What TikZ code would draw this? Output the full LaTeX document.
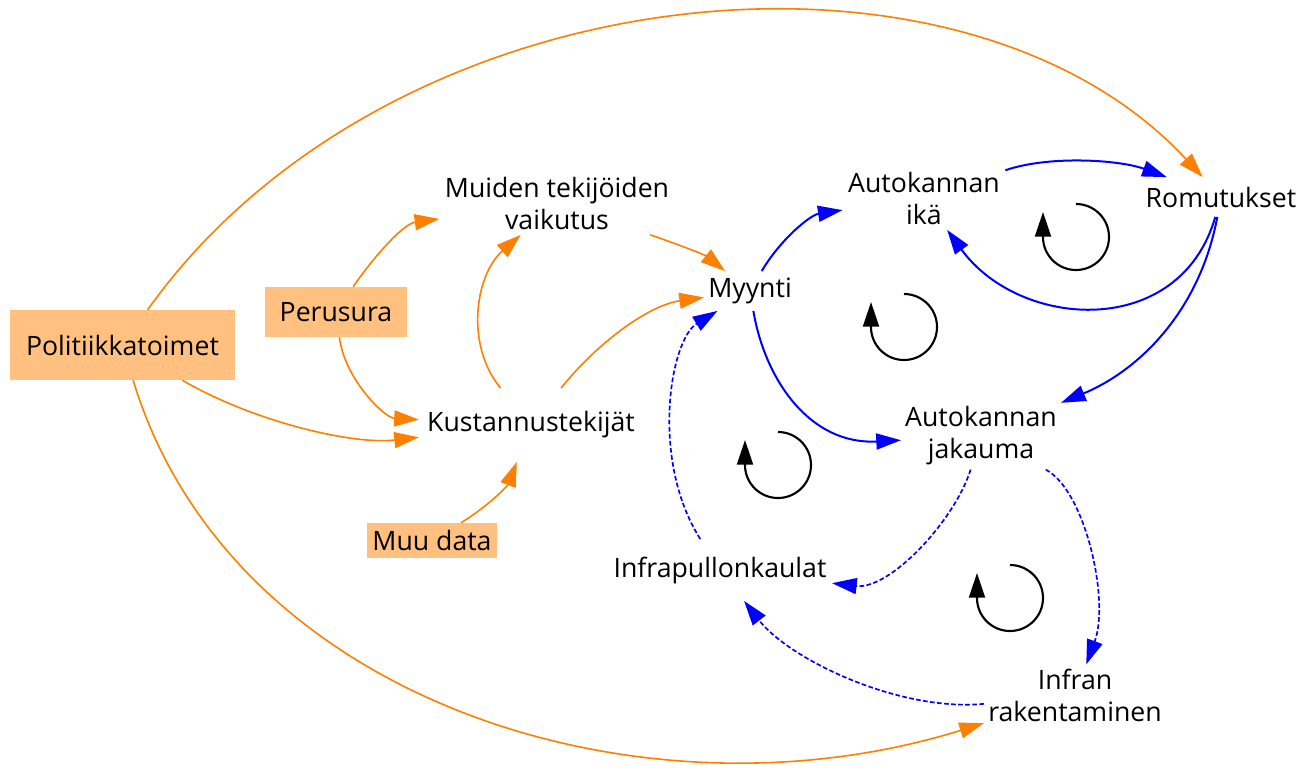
\documentclass[tikz,border=0pt]{standalone}
\usepackage{fontspec}
\setmainfont{Open Sans}
\usetikzlibrary{arrows.meta}
\definecolor{org}{RGB}{255,128,0}
\definecolor{peach}{RGB}{255,192,128}
\definecolor{blu}{RGB}{0,0,255}
\begin{document}
\begin{tikzpicture}[x=0.75pt,y=-0.75pt,
  font=\fontsize{20}{24}\selectfont,
  lbl/.style={align=center, inner sep=4pt},
  srcbox/.style={fill=peach, inner sep=0pt},
  tip/.style={-{Triangle[length=18.5pt,width=12pt]}},
  oarr/.style={draw=org, line width=1.2pt, tip},
  barr/.style={draw=blu, line width=1.5pt, tip},
  darr/.style={draw=blu, line width=1.25pt, dash pattern=on 3.5pt off 1.8pt, tip},
  loopsym/.style={draw=black, line width=1.6pt, tip}]
\useasboundingbox (0,0) rectangle (1304,771);

% nodes
\node[srcbox, minimum width=168.75pt, minimum height=52.5pt] (pol) at (122.5,345) {Politiikkatoimet};
\node[srcbox, minimum width=106.5pt, minimum height=37.5pt] (per) at (336,312) {Perusura};
\node[srcbox, minimum width=97.5pt, minimum height=26.25pt] (muu) at (432,540.5) {Muu data};
\node[lbl] (muid) at (557,203) {Muiden tekijöiden\\vaikutus};
\node[lbl, inner xsep=6pt, inner ysep=17.5pt] (kust) at (531,425) {Kustannustekijät};
\node[lbl, inner xsep=3pt, inner ysep=5pt] (myy) at (750,291) {Myynti};
\node[lbl, inner sep=4pt] (ika) at (924,198) {Autokannan\\ikä};
\node[lbl, inner xsep=3pt, inner ysep=7pt] (romu) at (1221,197) {Romutukset};
\node[lbl, inner sep=3pt] (jak) at (981,436) {Autokannan\\jakauma};
\node[lbl, inner xsep=4pt, inner ysep=13pt] (infp) at (720,570) {Infrapullonkaulat};
\node[lbl, inner sep=3pt] (infr) at (1075,695) {Infran\\rakentaminen};

% orange connectors
\draw[oarr] (pol) .. controls (390,-30) and (960,-85) .. (romu);
\draw[oarr] (pol) .. controls (230,700) and (640,830) .. (infr);
\draw[oarr] (pol) .. controls (250,420) and (350,445) .. (kust);
\draw[oarr] (per) .. controls (370,262) and (402,224) .. (muid);
\draw[oarr] (per) .. controls (345,380) and (385,418) .. (kust);
\draw[oarr] (muu) .. controls (490,505) and (508,485) .. (kust);
\draw[oarr] (kust) .. controls (465,345) and (475,275) .. (muid);
\draw[oarr] (kust) .. controls (600,340) and (650,305) .. (myy);
\draw[oarr] (muid) .. controls (680,245) and (705,255) .. (myy);

% blue connectors
\draw[barr] (myy) .. controls (780,240) and (810,215) .. (ika);
\draw[barr] (ika) .. controls (1050,155) and (1120,160) .. (romu);
\draw[barr] (romu) .. controls (1180,340) and (1020,330) .. (ika);
\draw[barr] (romu) .. controls (1200,310) and (1140,370) .. (jak);
\draw[barr] (myy) .. controls (765,380) and (810,445) .. (jak);

% dashed blue connectors
\draw[darr] (jak) .. controls (955,520) and (890,590) .. (infp);
\draw[darr] (jak) .. controls (1085,490) and (1110,600) .. (infr);
\draw[darr] (infr) .. controls (900,712) and (790,660) .. (infp);
\draw[darr] (infp) .. controls (650,460) and (670,340) .. (myy);

% loop symbols
\draw[loopsym] (1076,204) arc[start angle=-90, end angle=180, radius=33] -- ++(0,-25);
\draw[loopsym] (904,294) arc[start angle=-90, end angle=180, radius=33] -- ++(0,-25);
\draw[loopsym] (778,432) arc[start angle=-90, end angle=180, radius=33] -- ++(0,-25);
\draw[loopsym] (1010,565) arc[start angle=-90, end angle=180, radius=33] -- ++(0,-25);
\end{tikzpicture}
\end{document}
